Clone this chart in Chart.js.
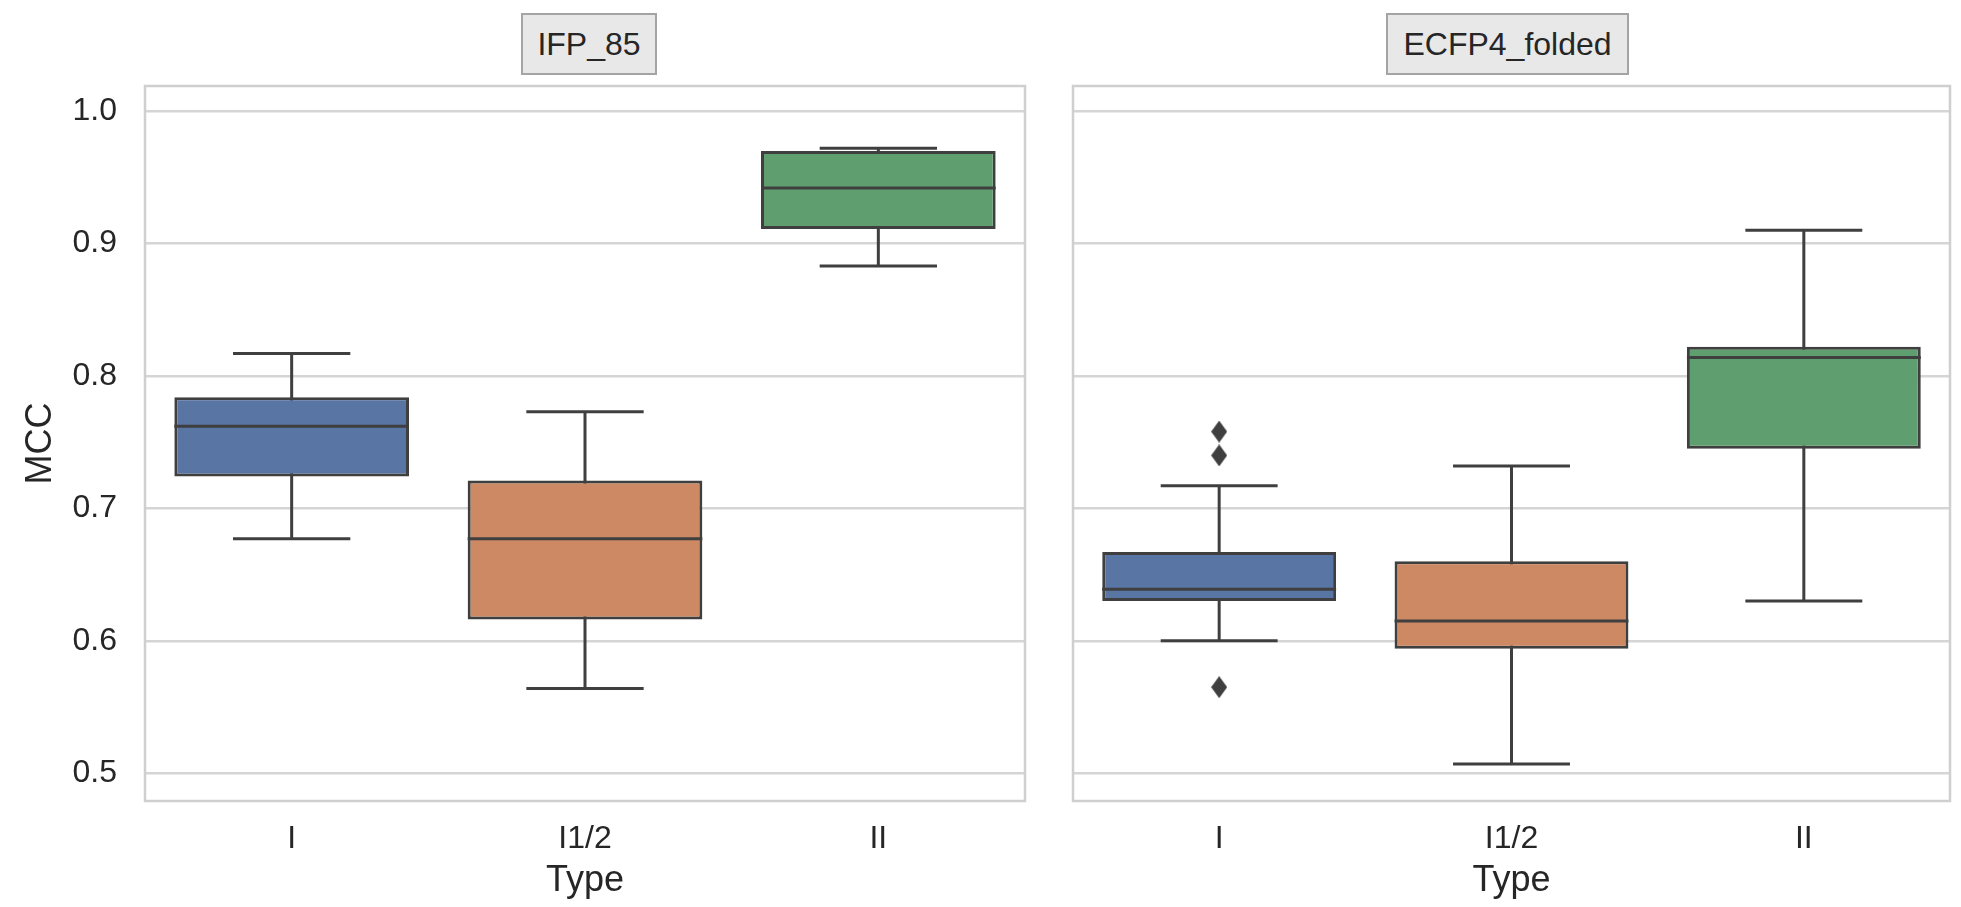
<!DOCTYPE html>
<html>
<head>
<meta charset="utf-8">
<script src="https://cdn.jsdelivr.net/npm/chart.js@4.4.0/dist/chart.umd.min.js"></script>
<style>
body { margin:0; background:#fff; width:1961px; height:907px; overflow:hidden; position:relative; font-family:"Liberation Sans", Arial, sans-serif; }
.panel { position:absolute; top:0; height:907px; }
.facet { position:absolute; top:13px; height:62px; box-sizing:border-box; border:2px solid #a4a4a4; background:#e8e8e8;
         font-size:32px; color:#262626; display:flex; align-items:center; justify-content:center; }
</style>
</head>
<body>
<div class="facet" style="left:521px;width:136px;">IFP_85</div>
<div class="facet" style="left:1386px;width:243px;">ECFP4_folded</div>
<div class="panel" style="left:0;width:1040px"><canvas id="left"></canvas></div>
<div class="panel" style="left:1040px;width:921px"><canvas id="right"></canvas></div>
<script>
const types = ['I', 'I1/2', 'II'];
const yTicks = [0.5, 0.6, 0.7, 0.8, 0.9, 1.0];
const colors = ['#5975a4', '#cc8963', '#5f9e6e'];

// IFP_85
const ifpLow = [0.677, 0.564, 0.883];
const ifpQ1 = [0.724, 0.616, 0.911];
const ifpMed = [0.762, 0.677, 0.942];
const ifpQ3 = [0.784, 0.721, 0.970];
const ifpHigh = [0.817, 0.773, 0.972];

// ECFP4_folded
const ecfpLow = [0.600, 0.507, 0.630];
const ecfpQ1 = [0.630, 0.594, 0.745];
const ecfpMed = [0.639, 0.615, 0.814];
const ecfpQ3 = [0.667, 0.660, 0.822];
const ecfpHigh = [0.717, 0.732, 0.910];
const ecfpOutX = ['I', 'I', 'I'];
const ecfpOutY = [0.758, 0.740, 0.565];

const lineColor = '#3f3f3f';
const textColor = '#262626';

// losango fino como o marcador 'd' do seaborn
function diamond() {
    const c = document.createElement('canvas');
    c.width = 16; c.height = 22;
    const g = c.getContext('2d');
    g.fillStyle = lineColor;
    g.beginPath();
    g.moveTo(8, 0); g.lineTo(16, 11); g.lineTo(8, 22); g.lineTo(0, 11);
    g.closePath();
    g.fill();
    return c;
}

// bigodes, tampas, mediana e moldura
function boxPlugin(low, med, high) {
    return {
        id: 'boxparts',
        beforeDatasetsDraw(chart) {
            const { ctx, chartArea: a, scales: { x, y } } = chart;
            ctx.save();
            ctx.strokeStyle = '#cfcfcf';
            ctx.lineWidth = 2.5;
            ctx.strokeRect(a.left, a.top, a.right - a.left, a.bottom - a.top);
            const bars = chart.getDatasetMeta(0).data;
            ctx.strokeStyle = lineColor;
            ctx.lineWidth = 3;
            ctx.lineCap = 'butt';
            low.forEach((v, i) => {
                const cx = x.getPixelForValue(i);
                const half = bars[i].width / 4;
                ctx.beginPath();
                ctx.moveTo(cx, y.getPixelForValue(low[i]));
                ctx.lineTo(cx, y.getPixelForValue(high[i]));
                ctx.moveTo(cx - half, y.getPixelForValue(low[i]));
                ctx.lineTo(cx + half, y.getPixelForValue(low[i]));
                ctx.moveTo(cx - half, y.getPixelForValue(high[i]));
                ctx.lineTo(cx + half, y.getPixelForValue(high[i]));
                ctx.stroke();
            });
            ctx.restore();
        },
        afterDatasetsDraw(chart) {
            const { ctx, scales: { x, y } } = chart;
            const bars = chart.getDatasetMeta(0).data;
            ctx.save();
            ctx.strokeStyle = lineColor;
            ctx.lineWidth = 3;
            med.forEach((v, i) => {
                const cx = x.getPixelForValue(i);
                const half = bars[i].width / 2;
                const py = y.getPixelForValue(v);
                ctx.beginPath();
                ctx.moveTo(cx - half, py);
                ctx.lineTo(cx + half, py);
                ctx.stroke();
            });
            ctx.restore();
        }
    };
}

function criarPainel(id, q1, q3, low, med, high, outX, outY, showY, yWidth, padRight) {
    const datasets = [{
        type: 'bar',
        data: q1.map((v, i) => [v, q3[i]]),
        backgroundColor: colors,
        borderColor: lineColor,
        borderWidth: 3,
        borderSkipped: false,
        barPercentage: 0.8,
        categoryPercentage: 1.0
    }];
    if (outY.length) {
        datasets.push({
            type: 'scatter',
            data: outY.map((v, i) => ({ x: outX[i], y: v })),
            pointStyle: diamond(),
            pointRadius: 10,
            showLine: false
        });
    }
    new Chart(document.getElementById(id), {
        type: 'bar',
        data: { labels: types, datasets: datasets },
        options: {
            responsive: true,
            maintainAspectRatio: false,
            animation: false,
            layout: { padding: { top: 86, right: padRight, left: 0, bottom: 0 } },
            plugins: { legend: { display: false }, tooltip: { enabled: false } },
            scales: {
                x: {
                    type: 'category',
                    offset: true,
                    grid: { display: false, drawTicks: false },
                    border: { display: false },
                    ticks: { color: textColor, font: { size: 32, family: 'Liberation Sans' }, padding: 19 },
                    title: { display: true, text: 'Type', color: textColor,
                             font: { size: 36, family: 'Liberation Sans' }, padding: { top: 0, bottom: 4 } },
                    afterFit: s => { s.height = 106; }
                },
                y: {
                    min: 0.479,
                    max: 1.019,
                    afterBuildTicks: s => { s.ticks = yTicks.map(v => ({ value: v })); },
                    grid: { color: '#d5d5d5', lineWidth: 2.5, drawTicks: false },
                    border: { display: false },
                    ticks: {
                        display: showY,
                        color: textColor,
                        font: { size: 32, family: 'Liberation Sans' },
                        padding: 28,
                        callback: v => Number(v).toFixed(1)
                    },
                    title: { display: showY, text: 'MCC', color: textColor,
                             font: { size: 36, family: 'Liberation Sans' }, padding: { top: 19, bottom: 0 } },
                    afterFit: s => { s.width = yWidth; }
                }
            }
        },
        plugins: [boxPlugin(low, med, high)]
    });
}

criarPainel('left', ifpQ1, ifpQ3, ifpLow, ifpMed, ifpHigh, [], [], true, 145, 15);
criarPainel('right', ecfpQ1, ecfpQ3, ecfpLow, ecfpMed, ecfpHigh, ecfpOutX, ecfpOutY, false, 33, 6);
</script>
</body>
</html>
